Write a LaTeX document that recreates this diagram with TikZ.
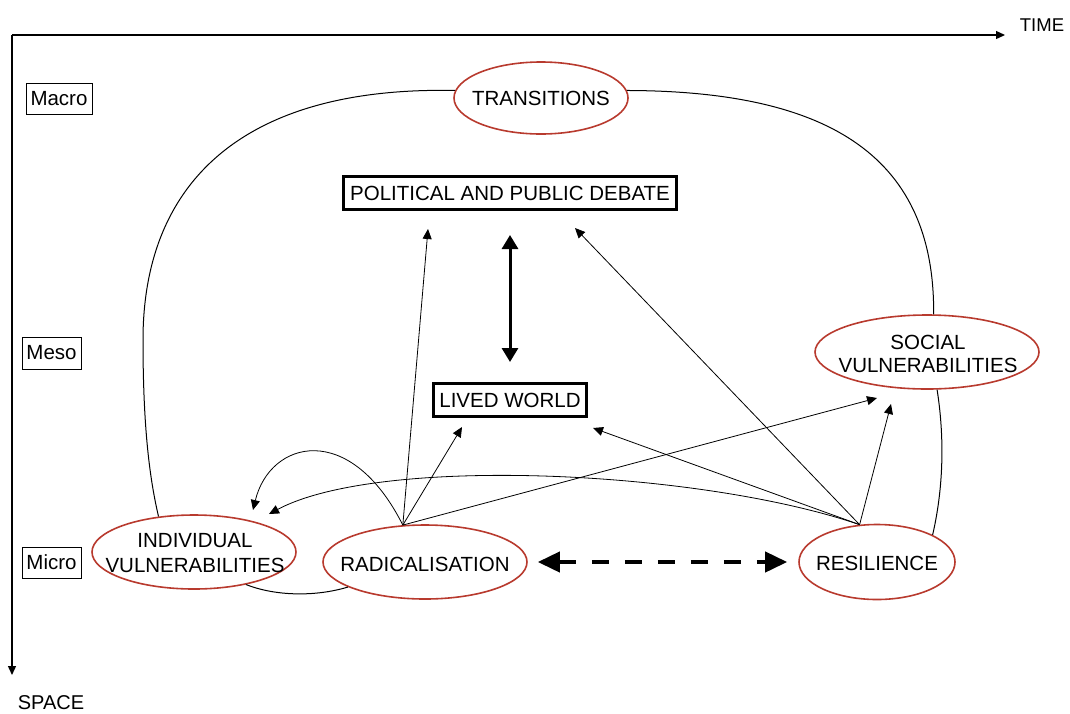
\documentclass[tikz,border=0pt]{standalone}
\usepackage{fontspec}
\setmainfont{Liberation Sans}
\usetikzlibrary{arrows.meta,shapes.geometric}
\definecolor{ered}{HTML}{B83A2E}
\begin{document}
\begin{tikzpicture}[x=1pt,y=-1pt,
  txt/.style={font=\fontsize{20.5}{24}\selectfont, align=center, inner sep=0pt},
  ell/.style={draw=ered, line width=1.6pt, ellipse, inner sep=0pt},
  lvl/.style={draw, line width=0.9pt, inner sep=0pt, font=\fontsize{20.5}{24}\selectfont},
  bigbox/.style={draw, line width=3pt, inner sep=0pt, font=\fontsize{20.5}{24}\selectfont},
  conn/.style={line width=1pt},
  arr/.style={line width=0.8pt, -{Triangle[length=10pt,width=9pt]}},
  axis/.style={line width=1.3pt, -{Triangle[length=9pt,width=8pt]}}
]
\useasboundingbox (0,0) rectangle (1070,713);

% axes
\coordinate (origin) at (12,35);
\coordinate (tend) at (1005,35);
\coordinate (send) at (12,675);
\draw[axis] (origin) -- (tend);
\draw[axis] (origin) -- (send);
\node[txt, font=\fontsize{18.5}{22}\selectfont] (time) at (1042,25) {TIME};
\node[txt, font=\fontsize{20}{24}\selectfont] (space) at (51,703) {SPACE};

% level labels
\node[lvl, minimum width=66pt, minimum height=31pt] (macro) at (59,98.5) {Macro};
\node[lvl, minimum width=59pt, minimum height=32pt] (meso) at (51.5,353) {Meso};
\node[lvl, minimum width=59pt, minimum height=31pt] (micro) at (51.5,562.5) {Micro};

% ellipses
\node[ell, minimum width=174pt, minimum height=72pt] (trans) at (541,98) {};
\node[txt] (transt) at (541,98) {TRANSITIONS};
\node[ell, minimum width=224pt, minimum height=74pt] (soc) at (927,352) {};
\node[txt, font=\fontsize{20.5}{23}\selectfont] (soct) at (928,354) {SOCIAL\\VULNERABILITIES};
\node[ell, minimum width=204pt, minimum height=74pt] (ind) at (194,552) {};
\node[txt, font=\fontsize{20.5}{25}\selectfont] (indt) at (195,553) {INDIVIDUAL\\VULNERABILITIES};
\node[ell, minimum width=204pt, minimum height=74pt] (rad) at (425,562) {};
\node[txt] (radt) at (425,564) {RADICALISATION};
\node[ell, minimum width=156pt, minimum height=75pt] (res) at (877,562) {};
\node[txt] (rest) at (877,563) {RESILIENCE};

% boxes
\node[bigbox, minimum width=333pt, minimum height=33pt] (pol) at (510,193) {POLITICAL AND PUBLIC DEBATE};
\node[bigbox, minimum width=153pt, minimum height=33pt] (lived) at (510,400) {LIVED WORLD};

% big arrows
\draw[line width=3pt, {Triangle[length=14pt,width=16pt]}-{Triangle[length=14pt,width=16pt]},
  shorten <=24pt, shorten >=20pt] (pol) -- (lived);
\draw[line width=4pt, dash pattern=on 17pt off 16pt,
  {Triangle[length=22pt,width=20pt]}-{Triangle[length=22pt,width=20pt]},
  shorten <=10pt, shorten >=11pt] (rad) -- (res);

% connector curves
\draw[conn] (trans.175) .. controls (240,86) and (143,185) .. (143,340)
  .. controls (143,430) and (150,480) .. (ind.135);
\draw[conn] (trans.5) .. controls (820,91) and (935,150) .. (soc.80);
\draw[conn] (soc.-75) .. controls (945,440) and (943,490) .. (res.26);
\draw[conn] (ind.-32) .. controls (275,596) and (315,597) .. (rad.-162);

% arrow tips (free ends)
\coordinate (t1) at (428,229);
\coordinate (t2) at (462,427);
\coordinate (t3) at (877,398);
\coordinate (t4) at (253,510);
\coordinate (r1) at (575,228);
\coordinate (r2) at (593,428);
\coordinate (r3) at (891,404);
\coordinate (r4) at (269,514);

% arrows from radicalisation
\draw[arr] (rad.121) -- (t1);
\draw[arr] (rad.121) -- (t2);
\draw[arr] (rad.121) -- (t3);
\draw[arr] (rad.121) .. controls (350,420) and (270,440) .. (t4);

% arrows from resilience
\draw[arr] (res.115) -- (r1);
\draw[arr] (res.115) -- (r2);
\draw[arr] (res.115) -- (r3);
\draw[arr] (res.115) .. controls (700,470) and (380,455) .. (r4);
\end{tikzpicture}
\end{document}
